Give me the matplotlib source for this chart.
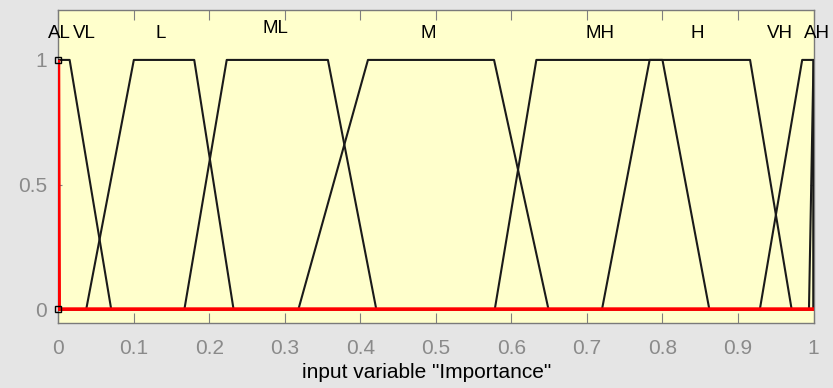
import numpy as np
import matplotlib.pyplot as plt

plt.rcParams['font.family'] = ['Liberation Sans', 'DejaVu Sans']

# membership functions (trapezoid a, b, c, d) for input variable "Importance"
mf_names = ['AL', 'VL', 'L', 'ML', 'M', 'MH', 'H', 'VH', 'AH']
mf_params = [[0.0, 0.0, 0.0, 0.001],
             [0.0, 0.0, 0.015, 0.07],
             [0.037, 0.1, 0.18, 0.232],
             [0.167, 0.223, 0.357, 0.421],
             [0.318, 0.41, 0.577, 0.649],
             [0.578, 0.633, 0.8, 0.862],
             [0.72, 0.783, 0.916, 0.971],
             [0.929, 0.985, 1.0, 1.0],
             [0.994, 1.0, 1.0, 1.0]]
selected = 'AL'
label_x = [0.001, 0.035, 0.135, 0.287, 0.49, 0.717, 0.846, 0.956, 1.004]
label_y = [1.108, 1.108, 1.108, 1.128, 1.108, 1.108, 1.108, 1.108, 1.108]
x_range = [0, 1]
xticks = [0, 0.1, 0.2, 0.3, 0.4, 0.5, 0.6, 0.7, 0.8, 0.9, 1]
xtick_labels = ['0', '0.1', '0.2', '0.3', '0.4', '0.5', '0.6', '0.7', '0.8', '0.9', '1']
yticks = [0, 0.5, 1]
ytick_labels = ['0', '0.5', '1']

fig = plt.figure(figsize=(8.33, 3.88), dpi=100, facecolor='#e5e5e5')
ax = fig.add_axes([0.070, 0.168, 0.9066, 0.806])
ax.set_facecolor('#ffffcc')

for name, p in zip(mf_names, mf_params):
    xs = [x_range[0], p[0], p[1], p[2], p[3], x_range[1]]
    ys = [0, 0, 1, 1, 0, 0]
    if name == selected:
        ax.plot(xs, ys, color='#ff0000', lw=2.6, zorder=4, solid_joinstyle='miter')
        ax.plot([p[1], p[1]], [0, 1], ls='none', marker='s', ms=4, mfc='none',
                mec='black', mew=1, zorder=5, clip_on=False)
    else:
        ax.plot(xs, ys, color='#1a1a1a', lw=1.5, zorder=3)

for name, lx, ly in zip(mf_names, label_x, label_y):
    ax.text(lx, ly, name, ha='center', va='center', fontsize=13.5, color='black')

ax.set_xlim(x_range)
ax.set_ylim(-0.055, 1.2)
ax.set_xticks(xticks)
ax.set_xticklabels(xtick_labels)
ax.set_yticks(yticks)
ax.set_yticklabels(ytick_labels)
ax.tick_params(axis='x', direction='in', length=7, top=True, bottom=True,
               colors='#808080', labelcolor='#8a8a8a', labelsize=15, pad=12)
ax.tick_params(axis='y', direction='in', length=3, left=True, right=True,
               colors='#808080', labelcolor='#8a8a8a', labelsize=15, pad=8)
for s in ax.spines.values():
    s.set_color('#7a7a7a')
    s.set_linewidth(1)

ax.set_xlabel('input variable "Importance"', fontsize=15, color='black')
ax.xaxis.set_label_coords(0.488, -0.128)

plt.savefig('out.png', dpi=100, facecolor=fig.get_facecolor())
